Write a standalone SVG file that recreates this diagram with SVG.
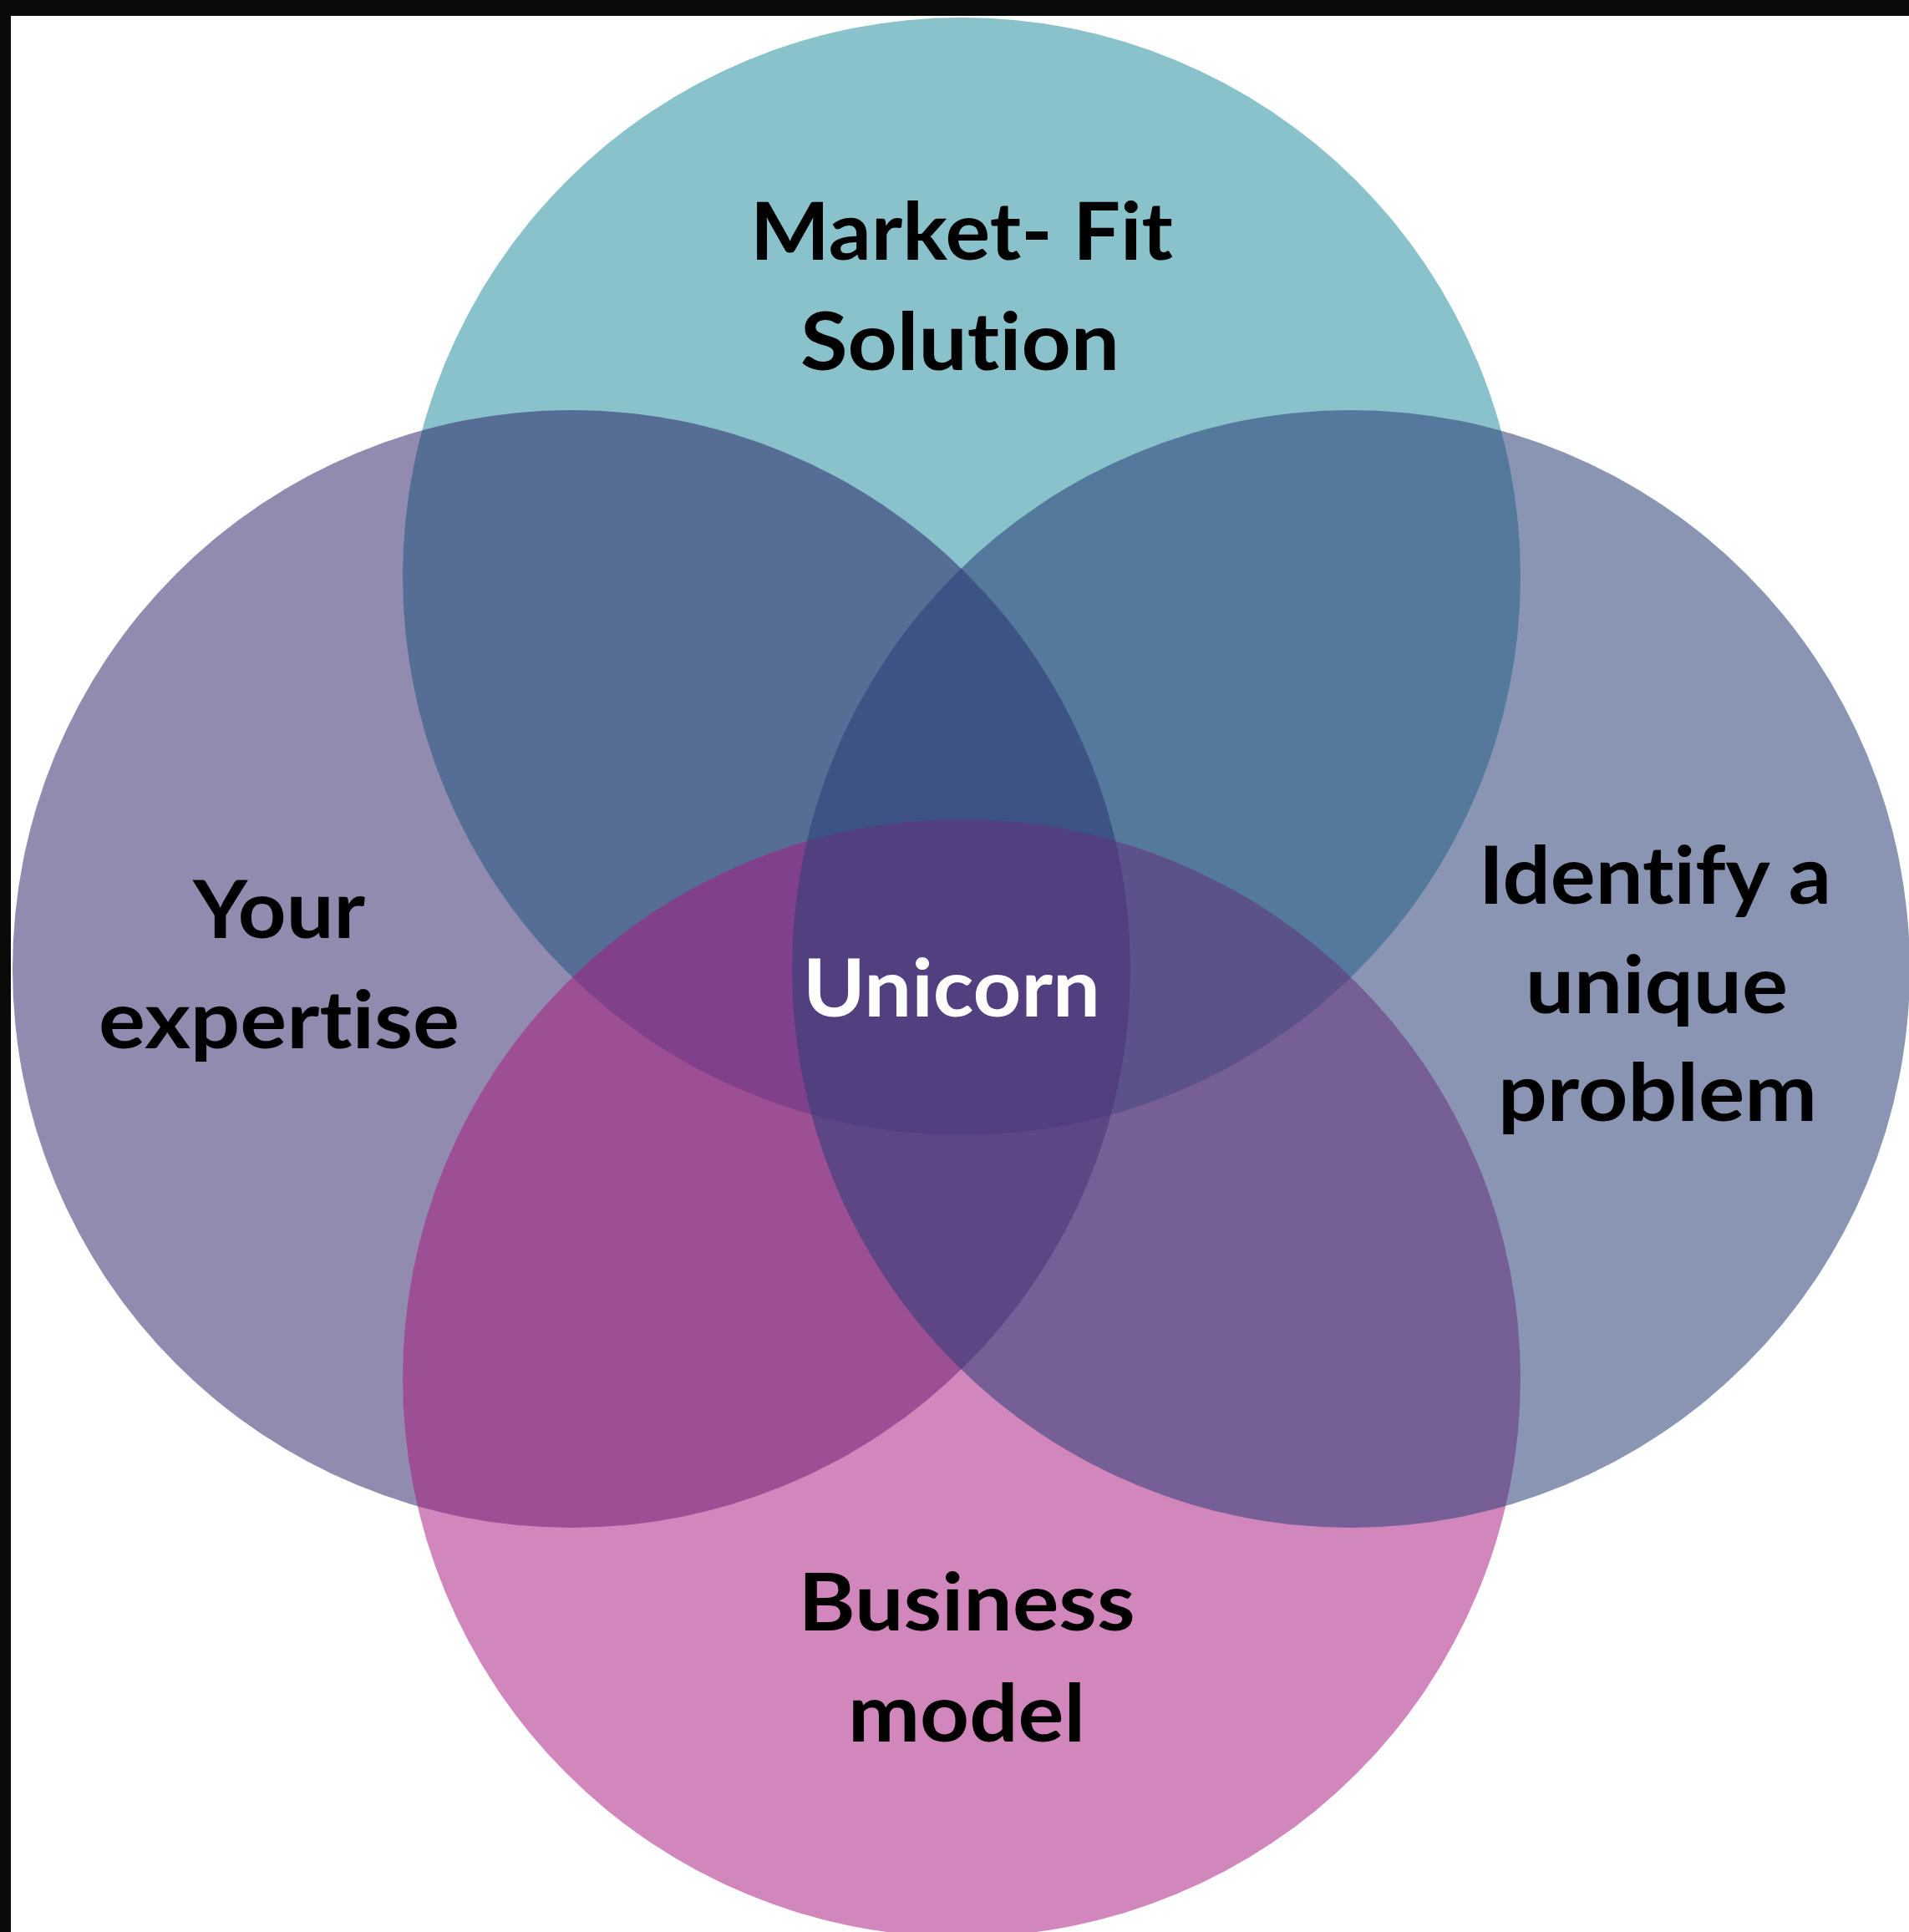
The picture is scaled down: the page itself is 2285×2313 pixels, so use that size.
<svg xmlns="http://www.w3.org/2000/svg" width="2285" height="2313" viewBox="0 0 2285 2313">
  <style>
    .lbl { font-family: Lato, "Open Sans", "Liberation Sans", sans-serif; font-weight: 700; font-size: 96px; fill: #000000; text-anchor: middle; font-variant-ligatures: none; font-feature-settings: "liga" 0, "clig" 0; }
    .white { fill: #ffffff; }
  </style>
  <rect x="0" y="0" width="2285" height="2313" fill="#ffffff"/>
  <g id="node-market-fit">
    <circle cx="1151" cy="690" r="669" fill="#138597" fill-opacity="0.5"/>
    <text class="lbl" x="1151" y="311" textLength="506" lengthAdjust="spacingAndGlyphs">Market- Fit</text>
    <text class="lbl" x="1149" y="443" textLength="382" lengthAdjust="spacingAndGlyphs">Solution</text>
  </g>
  <g id="node-expertise">
    <circle cx="684" cy="1160" r="669" fill="#231761" fill-opacity="0.5"/>
    <text class="lbl" x="334" y="1123" textLength="206" lengthAdjust="spacingAndGlyphs">Your</text>
    <text class="lbl" x="334" y="1255" textLength="432" lengthAdjust="spacingAndGlyphs">expertise</text>
  </g>
  <g id="node-business-model">
    <circle cx="1151" cy="1650" r="669" fill="#A8187E" fill-opacity="0.52"/>
    <text class="lbl" x="1157" y="1952" textLength="403" lengthAdjust="spacingAndGlyphs">Business</text>
    <text class="lbl" x="1157" y="2085" textLength="284" lengthAdjust="spacingAndGlyphs">model</text>
  </g>
  <g id="node-problem">
    <circle cx="1617" cy="1160" r="669" fill="#2A3E77" fill-opacity="0.55"/>
    <text class="lbl" x="1981" y="1082" textLength="422" lengthAdjust="spacingAndGlyphs">Identify a</text>
    <text class="lbl" x="1983" y="1213" textLength="314" lengthAdjust="spacingAndGlyphs">unique</text>
    <text class="lbl" x="1984" y="1342" textLength="382" lengthAdjust="spacingAndGlyphs">problem</text>
  </g>
  <g id="node-unicorn">
    <text class="lbl white" x="1139" y="1217" textLength="356" lengthAdjust="spacingAndGlyphs">Unicorn</text>
  </g>
  <g id="connectors"/>
  <g id="frame">
    <rect x="0" y="0" width="2285" height="19" fill="#0a0a0a"/>
    <rect x="0" y="0" width="13" height="2313" fill="#0a0a0a"/>
  </g>
</svg>
